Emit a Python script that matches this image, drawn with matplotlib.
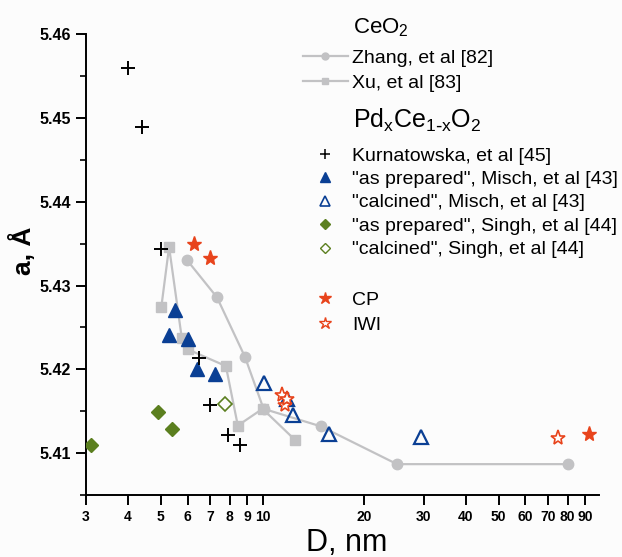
import matplotlib
matplotlib.use('Agg')
from matplotlib import pyplot as plt
from matplotlib.lines import Line2D
from matplotlib.ticker import FixedLocator, FixedFormatter, MultipleLocator, NullLocator

plt.rcParams['font.family'] = ['Liberation Sans', 'DejaVu Sans']

# CeO2 reference data (lines)
zhang_d = [5.96, 7.33, 8.87, 10.07, 14.9, 25.0, 80.3]
zhang_a = [5.4331, 5.4286, 5.4215, 5.4153, 5.4132, 5.4087, 5.4087]
xu_d = [5.02, 5.29, 5.77, 6.0, 7.79, 8.45, 10.0, 12.47]
xu_a = [5.4275, 5.4346, 5.4237, 5.4224, 5.4204, 5.4133, 5.4153, 5.4116]

# PdxCe1-xO2 data
kurn_d = [4.0, 4.4, 5.0, 6.49, 6.98, 7.9, 8.59]
kurn_a = [5.456, 5.4489, 5.4343, 5.4213, 5.4157, 5.4122, 5.4110]
misch_prep_d = [5.51, 5.30, 6.01, 6.41, 7.21]
misch_prep_a = [5.4271, 5.4241, 5.4236, 5.4201, 5.4194]
misch_calc_d = [10.1, 11.8, 12.3, 15.7, 29.4]
misch_calc_a = [5.4184, 5.4165, 5.4146, 5.4123, 5.4119]
singh_prep_d = [3.10, 4.92, 5.41]
singh_prep_a = [5.4110, 5.4149, 5.4129]
singh_calc_d = [7.72]
singh_calc_a = [5.4159]
cp_d = [6.29, 6.98, 92.5]
cp_a = [5.4349, 5.4333, 5.4123]
iwi_d = [11.45, 11.65, 11.85, 74.7]
iwi_a = [5.4170, 5.4158, 5.4165, 5.4118]

x_ticks = [3, 4, 5, 6, 7, 8, 9, 10, 20, 30, 40, 50, 60, 70, 80, 90]

gray = '#c2c2c4'
blue = '#0a3f94'
green = '#5b7f1f'
red = '#e8441c'

fig = plt.figure(figsize=(6.22, 5.57), dpi=100, facecolor='#fcfcfc')
ax = fig.add_axes([0.138, 0.111, 0.825, 0.828], facecolor='#fcfcfc')

ax.plot(zhang_d, zhang_a, '-o', color=gray, ms=7.5, lw=1.6, zorder=2)
ax.plot(xu_d, xu_a, '-s', color=gray, ms=7, lw=1.6, zorder=2)
ax.plot(kurn_d, kurn_a, '+', color='black', ms=10, mew=1.4, ls='none', zorder=4)
ax.plot(misch_prep_d, misch_prep_a, '^', color=blue, ms=10, ls='none', zorder=3)
ax.plot(misch_calc_d, misch_calc_a, '^', mfc='none', mec=blue, ms=10, mew=1.6, ls='none', zorder=3)
ax.plot(singh_prep_d, singh_prep_a, 'D', color=green, ms=7.5, ls='none', zorder=3)
ax.plot(singh_calc_d, singh_calc_a, 'D', mfc='none', mec=green, ms=7.5, mew=1.2, ls='none', zorder=3)
ax.plot(cp_d, cp_a, '*', color=red, ms=11, ls='none', zorder=4)
ax.plot(iwi_d, iwi_a, '*', mfc='white', mec=red, ms=11, mew=1.2, ls='none', zorder=4)

ax.set_xscale('log')
ax.set_xlim(3, 99)
ax.set_ylim(5.405, 5.46)
ax.xaxis.set_major_locator(FixedLocator(x_ticks))
ax.xaxis.set_major_formatter(FixedFormatter([str(t) for t in x_ticks]))
ax.xaxis.set_minor_locator(NullLocator())
ax.yaxis.set_major_locator(MultipleLocator(0.01))
ax.yaxis.set_minor_locator(MultipleLocator(0.005))
ax.yaxis.set_major_formatter(matplotlib.ticker.FormatStrFormatter('%.2f'))

for s in ['top', 'right']:
    ax.spines[s].set_visible(False)
for s in ['left', 'bottom']:
    ax.spines[s].set_linewidth(1.4)
ax.tick_params(axis='both', which='major', length=7, width=1.4, direction='out')
ax.tick_params(axis='both', which='minor', length=4, width=1.2, direction='out')
ax.tick_params(axis='x', labelsize=10, pad=4)
ax.tick_params(axis='y', labelsize=11.5, pad=4)
for lbl in ax.get_xticklabels() + ax.get_yticklabels():
    lbl.set_fontweight('bold')

ax.set_xlabel('D, nm', fontsize=22, va='top')
ax.xaxis.set_label_coords(0.509, -0.072)
ax.set_ylabel('a, Å', fontsize=19, fontweight='bold')
ax.yaxis.set_label_coords(-0.097, 0.53)

# legends
leg_kw = dict(frameon=False, loc='upper left', fontsize=14, handlelength=2.3,
              handletextpad=0.25, borderpad=0, borderaxespad=0)
h1 = [Line2D([], [], color=gray, marker='o', ms=5, lw=1.6),
      Line2D([], [], color=gray, marker='s', ms=5, lw=1.6)]
leg1 = ax.legend(h1, ['Zhang, et al [82]', 'Xu, et al [83]'],
                 bbox_to_anchor=(0.423, 0.967), labelspacing=0.38, **leg_kw)
ax.add_artist(leg1)

h2 = [Line2D([], [], color='black', marker='+', ms=7, mew=1.1, ls='none'),
      Line2D([], [], color=blue, marker='^', ms=7, ls='none'),
      Line2D([], [], mfc='none', mec=blue, marker='^', ms=7, mew=1.2, ls='none'),
      Line2D([], [], color=green, marker='D', ms=5.5, ls='none'),
      Line2D([], [], mfc='none', mec=green, marker='D', ms=5.5, mew=1, ls='none')]
leg2 = ax.legend(h2, ['Kurnatowska, et al [45]', '"as prepared", Misch, et al [43]',
                      '"calcined", Misch, et al [43]', '"as prepared", Singh, et al [44]',
                      '"calcined", Singh, et al [44]'],
                 bbox_to_anchor=(0.423, 0.755), labelspacing=0.3, **leg_kw)
ax.add_artist(leg2)

h3 = [Line2D([], [], color=red, marker='*', ms=9, ls='none'),
      Line2D([], [], mfc='white', mec=red, marker='*', ms=9, mew=1, ls='none')]
leg3 = ax.legend(h3, ['CP', 'IWI'], bbox_to_anchor=(0.423, 0.442),
                 labelspacing=0.38, **leg_kw)

ax.text(0.52, 1.002, r'CeO$_\mathregular{2}$', transform=ax.transAxes, fontsize=16, va='baseline')
ax.text(0.52, 0.796, r'Pd$_\mathregular{x}$Ce$_\mathregular{1\text{-}x}$O$_\mathregular{2}$',
        transform=ax.transAxes, fontsize=18, va='baseline')

plt.savefig('out.png', dpi=100, facecolor=fig.get_facecolor())
print("Plot Created!")
